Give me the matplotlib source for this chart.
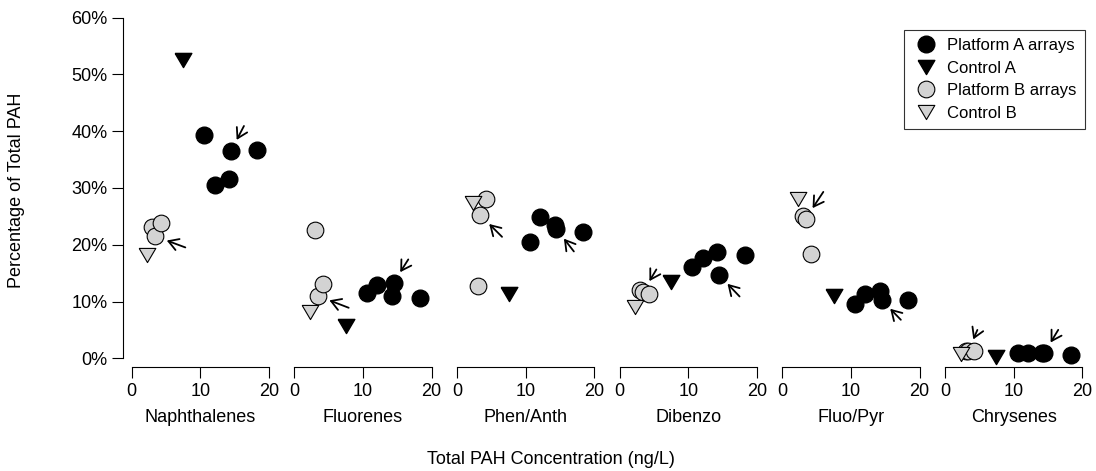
import matplotlib
matplotlib.use("Agg")
import matplotlib.pyplot as plt
from matplotlib.ticker import FuncFormatter

plt.rcParams["font.family"] = ["Liberation Sans", "DejaVu Sans"]

# Data
panels = ["Naphthalenes", "Fluorenes", "Phen/Anth", "Dibenzo", "Fluo/Pyr", "Chrysenes"]

# total PAH concentration (ng/L) of each sample
conc_a = [10.6, 12.1, 14.2, 14.45, 18.3]
conc_ctrl_a = 7.5
conc_b = [3.0, 3.4, 4.2]
conc_ctrl_b = 2.3

# percentage of total PAH, one row per panel
pct_a = [
    [39.3, 30.5, 31.5, 36.5, 36.6],
    [11.5, 12.9, 11.0, 13.3, 10.6],
    [20.4, 24.9, 23.4, 22.8, 22.3],
    [16.0, 17.6, 18.8, 14.7, 18.2],
    [9.6, 11.3, 11.8, 10.3, 10.3],
    [0.9, 0.9, 0.9, 0.9, 0.6],
]
pct_ctrl_a = [52.6, 5.6, 11.4, 13.4, 10.9, 0.2]
pct_b = [
    [23.2, 21.5, 23.8],
    [22.6, 11.0, 13.0],
    [12.7, 25.2, 28.0],
    [12.1, 11.7, 11.3],
    [25.0, 24.6, 18.4],
    [1.3, 1.3, 1.2],
]
pct_ctrl_b = [18.1, 8.1, 27.4, 9.0, 28.1, 0.8]

# arrows: (series, index, tail offset in points)
arrows = [
    [("a", 3, (9.4, 18.0)), ("b", 1, (21.8, -8.1))],
    [("a", 3, (10.6, 16.8)), ("b", 1, (22.3, -8.6))],
    [("a", 3, (12.7, -16.3)), ("b", 1, (15.6, -15.6))],
    [("a", 3, (14.9, -15.6)), ("b", 1, (9.6, 16.1))],
    [("a", 3, (13.9, -14.4)), ("b", 1, (12.7, 19.2))],
    [("a", 3, (10.1, 16.8)), ("b", 1, (6.5, 15.1))],
]

W, H = 1096, 471
fig = plt.figure(figsize=(W / 100, H / 100), dpi=100)

GREY = "#d3d3d3"
FS = 13
off = 6.5  # spine offset in points
# wide, downward pointing triangle like R's pch 25
tri = [(-1, 0.85), (1, 0.85), (0, -0.85), (-1, 0.85)]

px0, pw, pstep = 131.7, 137.3, 162.66
y0_px, y60_px = 358.3, 17.5

for i, name in enumerate(panels):
    left = (px0 + i * pstep) / W
    ax = fig.add_axes([left, 1 - y0_px / H, pw / W, (y0_px - y60_px) / H])
    ax.set_xlim(0, 20)
    ax.set_ylim(0, 60)
    ax.patch.set_alpha(0)

    ms_c, ms_t = 12, 12
    ax.plot(conc_a, pct_a[i], "o", ms=ms_c, mfc="black", mec="black", clip_on=False,
            label="Platform A arrays")
    ax.plot([conc_ctrl_a], [pct_ctrl_a[i]], marker=tri, ls="none", ms=ms_t, mfc="black",
            mec="black", clip_on=False, label="Control A")
    ax.plot(conc_b, pct_b[i], "o", ms=ms_c, mfc=GREY, mec="black", mew=0.8,
            clip_on=False, label="Platform B arrays")
    ax.plot([conc_ctrl_b], [pct_ctrl_b[i]], marker=tri, ls="none", ms=ms_t, mfc=GREY,
            mec="black", mew=0.8, clip_on=False, label="Control B")

    for series, idx, (dx, dy) in arrows[i]:
        if series == "a":
            xy = (conc_a[idx], pct_a[i][idx])
        else:
            xy = (conc_b[idx], pct_b[i][idx])
        ax.annotate("", xy=xy, xytext=(dx, dy), textcoords="offset points",
                    arrowprops=dict(arrowstyle="->,head_length=0.5,head_width=0.3",
                                    lw=1.3, color="black", shrinkA=0, shrinkB=9,
                                    mutation_scale=14),
                    annotation_clip=False)

    for s in ("top", "right"):
        ax.spines[s].set_visible(False)
    ax.spines["bottom"].set_position(("outward", off))
    ax.spines["bottom"].set_bounds(0, 20)
    ax.spines["bottom"].set_linewidth(0.8)
    ax.set_xticks([0, 10, 20])
    ax.tick_params(axis="x", length=8, width=0.8, pad=3.5, labelsize=FS)
    ax.set_xlabel(name, fontsize=FS, labelpad=6)

    if i == 0:
        ax.spines["left"].set_position(("outward", off))
        ax.spines["left"].set_bounds(0, 60)
        ax.spines["left"].set_linewidth(0.8)
        ax.set_yticks(range(0, 61, 10))
        ax.yaxis.set_major_formatter(FuncFormatter(lambda v, p: "%d%%" % v))
        ax.tick_params(axis="y", length=8, width=0.8, pad=3, labelsize=FS)
        handles, labels = ax.get_legend_handles_labels()
    else:
        ax.spines["left"].set_visible(False)
        ax.set_yticks([])

leg = fig.legend(handles, labels, loc="upper right",
                 bbox_to_anchor=(1085 / W, 1 - 30 / H), fontsize=12,
                 frameon=True, fancybox=False, borderaxespad=0,
                 handletextpad=0.5, labelspacing=0.45, handlelength=1.6,
                 borderpad=0.5)
leg.get_frame().set_edgecolor("black")
leg.get_frame().set_linewidth(0.8)

fig.text(17 / W, 1 - 190 / H, "Percentage of Total PAH", rotation=90,
         ha="center", va="center", fontsize=FS)
fig.text(0.503, 1 - 460 / H, "Total PAH Concentration (ng/L)",
         ha="center", va="center", fontsize=FS)

fig.savefig("out.png", dpi=100)
